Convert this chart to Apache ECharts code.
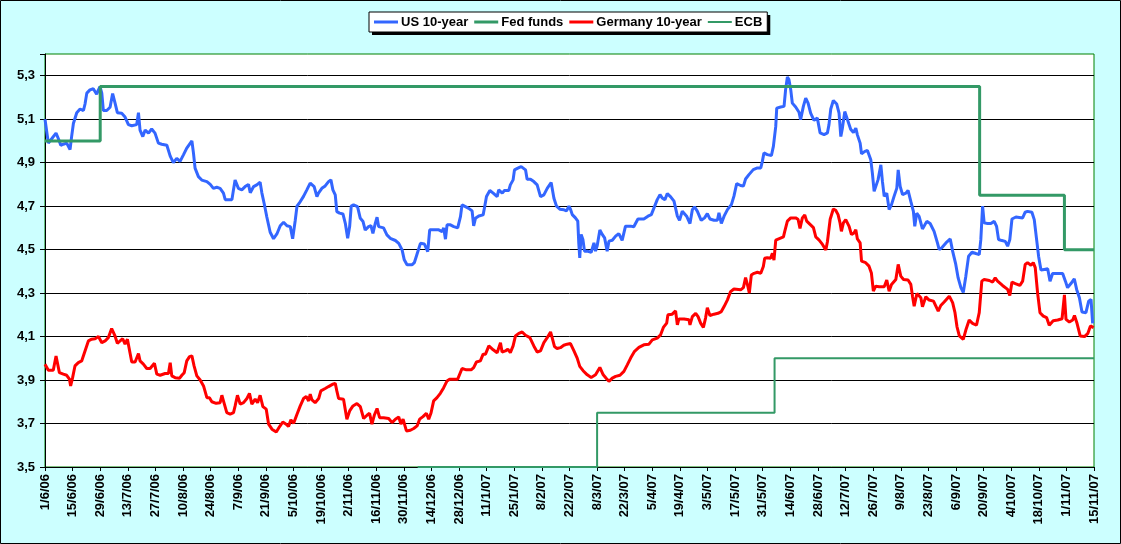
<!DOCTYPE html>
<html>
<head>
<meta charset="utf-8">
<script src="https://cdn.jsdelivr.net/npm/echarts@6/dist/echarts.min.js"></script>
<style>
html,body{margin:0;padding:0;background:#CCFFFF;}
#chart{width:1121px;height:544px;}
</style>
</head>
<body>
<div id="chart"></div>
<script>
// Day offsets are counted from 1 June 2006.
const START_DATE = '2006-06-01';

const seriesNames = ['US 10-year', 'Fed funds', 'Germany 10-year', 'ECB'];

const xTickLabels = ['1/6/06','15/6/06','29/6/06','13/7/06','27/7/06','10/8/06','24/8/06','7/9/06','21/9/06','5/10/06','19/10/06','2/11/06','16/11/06','30/11/06','14/12/06','28/12/06','11/1/07','25/1/07','8/2/07','22/2/07','8/3/07','22/3/07','5/4/07','19/4/07','3/5/07','17/5/07','31/5/07','14/6/07','28/6/07','12/7/07','26/7/07','9/8/07','23/8/07','6/9/07','20/9/07','4/10/07','18/10/07','1/11/07','15/11/07'];
const yTickLabels = ['3,5','3,7','3,9','4,1','4,3','4,5','4,7','4,9','5,1','5,3'];

// Policy rates: date of change and new rate (last entry = end of chart)
const fedDates = ['2006-06-01','2006-06-29','2007-09-18','2007-10-31','2007-11-15'];
const fedRates = [5.00, 5.25, 4.75, 4.50, 4.50];
const ecbDates = ['2006-12-07','2007-03-08','2007-06-06','2007-11-15'];
const ecbRates = [3.50, 3.75, 4.00, 4.00];

// [day offset, yield]
const usYield = [[0,5.10],[1.7,4.99],[3.4,5.01],[5.6,5.036],[6.8,5.01],[8.0,4.98],[9.3,4.985],[11.0,4.99],[12.7,4.96],[13.5,5.02],[14.4,5.08],[16.1,5.13],[17.8,5.147],[19.5,5.14],[20.3,5.17],[21.2,5.22],[22.8,5.235],[24.5,5.24],[25.4,5.235],[26.2,5.215],[27.1,5.235],[27.9,5.25],[28.8,5.22],[29.6,5.14],[31.3,5.14],[33.0,5.155],[34.3,5.218],[35.5,5.175],[36.7,5.13],[38.9,5.127],[40.6,5.11],[42.3,5.075],[44.0,5.07],[46.5,5.075],[47.4,5.13],[48.2,5.05],[49.6,5.02],[50.8,5.05],[52.5,5.036],[54.1,5.055],[55.8,5.036],[57.5,4.99],[59.2,4.985],[61.8,4.98],[63.5,4.93],[65.1,4.90],[66.8,4.92],[68.5,4.906],[70.2,4.936],[71.9,4.967],[74.5,5.0],[75.3,4.944],[76.1,4.875],[77.8,4.836],[79.5,4.82],[82.1,4.813],[83.8,4.80],[85.4,4.782],[87.1,4.787],[88.8,4.782],[90.5,4.76],[91.4,4.73],[94.8,4.73],[95.6,4.776],[96.4,4.82],[98.1,4.782],[99.8,4.775],[101.5,4.79],[103.2,4.80],[104.1,4.762],[105.8,4.79],[107.4,4.798],[109.1,4.81],[110.0,4.76],[111.2,4.71],[112.5,4.65],[114.2,4.58],[115.9,4.55],[117.6,4.572],[119.3,4.61],[121.0,4.626],[122.7,4.61],[124.4,4.606],[125.6,4.55],[126.9,4.634],[127.8,4.70],[129.4,4.72],[131.1,4.745],[132.8,4.775],[134.5,4.806],
[136.5,4.79],[137.9,4.744],[138.7,4.76],[140.4,4.782],[142.1,4.793],[143.8,4.813],[145.0,4.821],[146.0,4.775],[147.2,4.752],[148.0,4.675],[149.4,4.668],[151.1,4.664],[152.3,4.621],[153.5,4.552],[154.5,4.606],[155.3,4.70],[156.5,4.706],[158.5,4.698],[159.9,4.644],[161.3,4.629],[162.4,4.59],[164.1,4.606],[165.3,4.61],[166.3,4.575],[167.5,4.621],[168.4,4.649],[169.2,4.606],[171.7,4.60],[173.4,4.568],[175.1,4.552],[177.7,4.542],[179.4,4.529],[181.1,4.499],[182.2,4.453],[183.6,4.43],[186.1,4.43],[187.3,4.44],[188.7,4.48],[190.4,4.529],[192.4,4.526],[194.1,4.491],[195.1,4.591],[197.1,4.591],[199.7,4.591],[201.4,4.583],[202.2,4.60],[203.1,4.548],[203.9,4.614],[205.6,4.614],[207.3,4.606],[209.3,4.60],[210.7,4.652],[211.5,4.706],[213.2,4.698],[214.9,4.69],[216.6,4.678],[217.4,4.609],[218.3,4.644],[220.0,4.655],[222.2,4.66],[223.0,4.698],[223.9,4.744],[225.6,4.772],[227.3,4.76],[229.3,4.744],[230.1,4.775],[231.9,4.76],[233.0,4.772],[235.2,4.772],[236.0,4.798],[237.4,4.821],[238.1,4.867],[239.8,4.875],[241.5,4.882],[242.5,4.89],[243.7,4.867],[244.5,4.824],[246.2,4.824],[247.9,4.813],[249.6,4.798],[251.3,4.744],[253.0,4.752],[254.7,4.782],[256.7,4.809],[258.1,4.736],[259.4,4.70],[261.1,4.686],[263.2,4.683],[264.5,4.678],[265.7,4.70],[266.5,4.686],
[267.4,4.661],[269.0,4.646],[270.2,4.631],[270.7,4.531],[271.2,4.462],[271.9,4.57],[272.8,4.547],[273.6,4.493],[275.0,4.493],[277.0,4.488],[278.4,4.531],[279.2,4.493],[280.0,4.516],[281.4,4.59],[282.6,4.57],[283.8,4.554],[285.1,4.493],[286.0,4.539],[287.7,4.543],[289.4,4.562],[291.0,4.574],[292.7,4.543],[294.4,4.608],[297.0,4.608],[298.6,4.605],[300.7,4.641],[303.7,4.641],[305.8,4.654],[307.5,4.661],[309.2,4.70],[310.5,4.73],[311.9,4.753],[313.0,4.738],[314.4,4.73],[315.6,4.758],[317.3,4.743],[319.0,4.723],[320.7,4.654],[321.8,4.635],[323.2,4.677],[325.4,4.654],[327.1,4.62],[328.3,4.684],[329.4,4.697],[330.8,4.677],[332.8,4.635],[334.5,4.646],[335.9,4.666],[337.2,4.641],[339.3,4.635],[341.0,4.635],[341.8,4.669],[343.0,4.62],[344.4,4.654],[346.1,4.684],[348.1,4.707],[349.4,4.746],[350.8,4.804],[352.8,4.795],[354.2,4.792],[355.3,4.825],[357.0,4.845],[359.2,4.868],[361.3,4.876],[363.0,4.876],[363.8,4.906],[364.6,4.945],[366.3,4.937],[368.4,4.933],[369.4,4.975],[370.6,5.067],[371.1,5.151],[373.1,5.156],[374.8,5.159],[375.6,5.236],[376.5,5.294],[377.3,5.282],[378.2,5.236],[379.0,5.174],[380.7,5.156],[382.4,5.132],[383.2,5.098],[384.6,5.159],[385.8,5.197],[387.0,5.174],[388.3,5.128],[390.0,5.095],[391.7,5.105],[393.1,5.037],[395.1,5.029],[396.8,5.037],[397.6,5.075],[398.5,5.147],
[399.8,5.186],[401.5,5.17],[402.7,5.128],[403.6,5.02],[404.4,5.059],[405.6,5.135],[406.9,5.10],[408.6,5.054],[410.0,5.039],[411.2,5.059],[412.0,5.028],[413.4,4.99],[414.1,4.941],[415.8,4.952],[417.1,4.956],[418.8,4.913],[419.6,4.852],[420.5,4.768],[421.3,4.76],[422.5,4.822],[423.9,4.89],[424.7,4.814],[425.6,4.745],[426.9,4.76],[428.1,4.684],[429.3,4.707],[430.6,4.745],[432.0,4.783],[432.7,4.867],[433.7,4.791],[434.9,4.753],[436.6,4.76],[437.7,4.773],[439.1,4.722],[440.4,4.676],[441.1,4.607],[442.1,4.668],[443.3,4.653],[445.0,4.595],[447.2,4.63],[448.9,4.62],[450.9,4.584],[452.6,4.531],[453.5,4.5],[454.7,4.508],[456.9,4.531],[459.1,4.549],[460.3,4.493],[461.1,4.485],[461.9,4.432],[463.1,4.37],[464.5,4.325],
[465.7,4.303],[467.0,4.378],[468.4,4.47],[470.1,4.488],[472.1,4.482],[473.8,4.477],[474.6,4.546],[475.5,4.70],[476.3,4.623],[478.0,4.62],[479.7,4.62],[481.4,4.63],[482.6,4.607],[483.6,4.546],[484.8,4.543],[487.0,4.538],[488.2,4.516],[489.3,4.546],[490.4,4.641],[492.4,4.65],[495.8,4.646],[497.1,4.672],[498.3,4.676],[500.5,4.672],[501.7,4.638],[502.9,4.546],[503.9,4.47],[505.1,4.406],[506.8,4.409],[508.5,4.412],[509.7,4.355],[511.0,4.39],[513.6,4.39],[516.1,4.39],[517.5,4.355],[518.6,4.325],[520.3,4.344],[522.0,4.366],[523.2,4.317],[524.6,4.279],[525.9,4.213],[527.9,4.21],[529.3,4.263],[530.5,4.271],[531.3,4.161]];

const germanyYield = [[0,3.973],[1.7,3.945],[4.2,3.945],[5.6,4.011],[6.3,4.011],[7.3,3.934],[9.3,3.927],[11.0,3.922],[12.4,3.904],[13.0,3.873],[14.0,3.911],[15.2,3.965],[16.9,3.98],[18.6,3.988],[20.3,4.034],[22.0,4.08],[23.7,4.088],[25.4,4.09],[27.1,4.10],[28.8,4.072],[30.5,4.08],[32.1,4.095],[33.8,4.137],[34.7,4.134],[35.5,4.103],[36.7,4.069],[38.1,4.08],[39.4,4.09],[40.6,4.065],[41.8,4.088],[43.1,4.026],[44.0,3.983],[45.7,3.983],[47.4,4.022],[48.2,3.988],[49.9,3.973],[51.6,3.953],[53.3,3.953],[55.5,3.977],[56.7,3.927],[58.4,3.922],[60.9,3.93],[62.6,3.93],[63.5,3.98],[64.3,3.919],[66.0,3.911],[68.2,3.908],[69.4,3.922],[70.6,3.934],[71.9,3.988],[73.3,4.008],[74.5,4.011],[75.6,3.965],[77.0,3.919],[78.7,3.90],[80.4,3.873],[82.1,3.819],[83.4,3.819],[84.6,3.80],[86.8,3.793],[88.8,3.796],[89.7,3.83],[90.5,3.804],[92.2,3.75],[93.9,3.743],[95.6,3.75],[96.4,3.78],[97.6,3.83],[99.0,3.789],[100.7,3.796],[102.4,3.815],[103.7,3.839],[104.9,3.789],[106.6,3.812],[107.8,3.796],[109.1,3.83],[110.5,3.778],[112.2,3.766],[113.4,3.697],[115.1,3.674],[117.3,3.661],[119.0,3.686],[120.6,3.707],[122.3,3.697],[123.5,3.686],[124.7,3.717],[126.1,3.701],[127.8,3.743],[129.4,3.78],[131.1,3.815],[132.5,3.824],[133.7,3.804],[134.5,3.835],
[135.4,3.809],[137.0,3.796],[138.8,3.815],[139.9,3.85],[142.1,3.861],[143.8,3.87],[146.0,3.881],[147.2,3.885],[148.0,3.85],[148.9,3.815],[151.4,3.812],[153.1,3.72],[154.5,3.758],[156.2,3.781],[158.2,3.792],[159.9,3.778],[161.6,3.723],[163.3,3.738],[164.6,3.747],[165.8,3.697],[167.0,3.738],[168.4,3.769],[169.7,3.727],[171.7,3.727],[174.3,3.723],[176.0,3.704],[177.7,3.72],[179.4,3.73],[180.5,3.697],[181.6,3.72],[183.3,3.666],[185.3,3.669],[187.0,3.677],[188.7,3.689],[190.0,3.72],[191.7,3.732],[193.4,3.747],[194.6,3.72],[195.8,3.75],[197.1,3.804],[198.8,3.819],[200.5,3.839],[202.2,3.865],[203.9,3.896],[205.2,3.904],[207.3,3.904],[209.3,3.904],[210.3,3.896],[211.5,3.953],[213.7,3.947],[216.1,3.947],[217.4,3.957],[218.8,3.983],[220.8,3.988],[222.2,4.019],[223.4,4.019],[225.1,4.057],[227.3,4.039],[229.3,4.026],[231.0,4.072],[231.8,4.029],[233.5,4.034],[234.7,4.042],[236.0,4.026],[237.4,4.057],[238.6,4.103],[240.3,4.115],[242.0,4.121],[243.7,4.106],[245.9,4.095],[247.9,4.057],[249.6,4.029],[251.3,4.034],[253.0,4.072],[254.7,4.095],[256.4,4.121],[257.2,4.095],[258.4,4.054],[259.7,4.045],[261.4,4.049],[263.1,4.06],[264.8,4.065],[266.5,4.068],
[268.2,4.035],[269.9,4.001],[271.2,3.963],[272.9,3.943],[275.0,3.924],[277.0,3.912],[279.2,3.924],[281.4,3.958],[283.1,3.924],[284.8,3.906],[286.0,3.894],[287.7,3.909],[289.4,3.917],[291.6,3.922],[293.6,3.94],[295.3,3.97],[297.0,4.001],[299.0,4.032],[301.2,4.05],[303.7,4.062],[306.3,4.065],[308.0,4.085],[310.5,4.093],[312.2,4.108],[313.6,4.142],[315.3,4.162],[315.9,4.2],[318.1,4.203],[319.8,4.218],[320.7,4.154],[321.5,4.181],[324.1,4.181],[326.6,4.177],[327.1,4.154],[328.3,4.192],[330.0,4.207],[331.2,4.192],[332.5,4.162],[333.9,4.142],[335.0,4.185],[335.9,4.233],[337.2,4.197],[339.3,4.203],[341.3,4.207],[343.0,4.215],[344.4,4.238],[346.1,4.269],[347.7,4.307],[349.4,4.319],[352.8,4.315],[354.2,4.325],[355.3,4.371],[356.5,4.33],[357.2,4.30],[358.2,4.383],[359.6,4.391],[361.3,4.396],[363.0,4.391],[364.3,4.422],[365.0,4.46],[366.3,4.463],[368.0,4.46],[368.9,4.483],[369.7,4.452],[370.6,4.544],[371.4,4.552],[374.5,4.559],[375.1,4.582],[376.5,4.631],[378.2,4.646],[380.7,4.646],[381.9,4.64],[382.9,4.598],[384.1,4.646],[385.3,4.659],[386.3,4.631],[388.0,4.616],[389.7,4.601],[390.9,4.559],[392.6,4.544],[394.3,4.524],[396.0,4.498],[396.8,4.536],[398.2,4.64],
[399.8,4.687],[401.0,4.681],[402.2,4.661],[403.2,4.623],[403.9,4.584],[404.9,4.623],[406.1,4.638],[407.8,4.607],[409.0,4.569],[410.3,4.577],[411.2,4.592],[412.0,4.549],[413.4,4.531],[414.1,4.447],[416.2,4.44],[417.9,4.424],[419.1,4.393],[420.1,4.309],[421.3,4.332],[423.0,4.329],[425.6,4.329],[426.9,4.36],[428.1,4.309],[429.3,4.34],[431.5,4.363],[432.7,4.432],[434.0,4.378],[435.4,4.363],[437.7,4.36],[439.1,4.34],[440.0,4.283],[440.8,4.24],[442.2,4.298],[444.2,4.279],[445.0,4.237],[446.7,4.283],[448.4,4.268],[450.6,4.263],[451.8,4.24],[453.0,4.217],[454.3,4.243],[456.0,4.259],[458.6,4.286],[460.3,4.256],[461.5,4.21],[462.5,4.146],[463.7,4.103],[464.5,4.095],
[465.7,4.087],[467.0,4.13],[468.7,4.176],[470.4,4.161],[472.4,4.152],[473.8,4.21],[475.1,4.355],[476.3,4.363],[478.9,4.358],[480.6,4.351],[481.9,4.37],[483.1,4.355],[485.6,4.335],[488.2,4.317],[489.3,4.289],[490.4,4.351],[492.1,4.344],[494.4,4.335],[495.8,4.355],[497.1,4.432],[498.3,4.44],[500.0,4.428],[501.2,4.44],[502.2,4.417],[503.4,4.30],[504.6,4.21],[506.3,4.194],[508.0,4.187],[509.3,4.152],[511.3,4.173],[513.6,4.176],[515.8,4.182],[517.0,4.292],[517.8,4.179],[519.5,4.167],[521.2,4.176],[522.1,4.197],[523.3,4.164],[525.0,4.103],[527.2,4.10],[528.9,4.115],[530.2,4.149],[531.8,4.141]];

function dayOf(s) {
  const a = s.split('-').map(Number), b = START_DATE.split('-').map(Number);
  return (Date.UTC(a[0], a[1] - 1, a[2]) - Date.UTC(b[0], b[1] - 1, b[2])) / 86400000;
}
const fedData = fedDates.map((d, i) => [dayOf(d), fedRates[i]]);
const ecbData = ecbDates.map((d, i) => [dayOf(d), ecbRates[i]]);

const FONT = "'Liberation Sans', Arial, sans-serif";
const ICON_THICK = 'path://M0,0M24,14M0,5.5L24,5.5L24,8.5L0,8.5Z';
const ICON_THIN = 'path://M0,0M24,14M0,6L24,6L24,8L0,8Z';

// legend geometry (for its drop shadow)
const LEG_LEFT = 369, LEG_TOP = 12, LEG_ITEM_W = 24, LEG_GAP = 6, LEG_PAD = 5, LEG_H = 20, LEG_TXT_GAP = 3;
const mc = document.createElement('canvas').getContext('2d');
mc.font = "bold 13px 'Liberation Sans', Arial, sans-serif";
const legendW = 2 * LEG_PAD + seriesNames.reduce((s, n) => s + LEG_ITEM_W + LEG_TXT_GAP + mc.measureText(n).width, 0) + LEG_GAP * (seriesNames.length - 1);

const chart = echarts.init(document.getElementById('chart'));
chart.setOption({
  animation: false,
  backgroundColor: '#CCFFFF',
  graphic: [{
    type: 'rect', z: 100, silent: true,
    shape: { x: 0.5, y: 0.5, width: 1120, height: 543 },
    style: { fill: 'none', stroke: '#000', lineWidth: 1 }
  }, {
    type: 'rect', z: 1, silent: true,
    shape: { x: LEG_LEFT + 3, y: LEG_TOP + 3, width: legendW, height: LEG_H },
    style: { fill: '#000' }
  }],
  legend: {
    data: [
      { name: seriesNames[0], icon: ICON_THICK },
      { name: seriesNames[1], icon: ICON_THICK },
      { name: seriesNames[2], icon: ICON_THICK },
      { name: seriesNames[3], icon: ICON_THIN }
    ],
    left: LEG_LEFT, top: LEG_TOP, z: 5,
    orient: 'horizontal',
    itemWidth: LEG_ITEM_W, itemHeight: 14, itemGap: LEG_GAP,
    padding: [3, LEG_PAD],
    backgroundColor: '#fff',
    borderColor: '#000', borderWidth: 1,
    textStyle: { fontFamily: FONT, fontWeight: 'bold', fontSize: 13, color: '#000', padding: [0, 0, 0, LEG_TXT_GAP - 5] }
  },
  grid: {
    left: 45, right: 27, top: 54, bottom: 77,
    show: true, backgroundColor: '#fff', borderColor: '#008000', borderWidth: 1
  },
  xAxis: {
    type: 'value', min: 0, max: 532, interval: 14, z: 3,
    axisLine: { show: true, lineStyle: { color: '#000', width: 1 } },
    axisTick: { show: true, length: 4, lineStyle: { color: '#000' } },
    splitLine: { show: false },
    axisLabel: {
      rotate: 90, margin: 7, color: '#000', fontFamily: FONT, fontWeight: 'bold', fontSize: 13,
      formatter: v => xTickLabels[Math.round(v / 14)] || ''
    }
  },
  yAxis: {
    type: 'value', min: 3.5, max: 5.4, interval: 0.2,
    axisLine: { show: true, lineStyle: { color: '#000', width: 1 } },
    axisTick: { show: true, length: 5, lineStyle: { color: '#000' } },
    splitLine: { show: true, showMaxLine: false, lineStyle: { color: '#000', width: 1 } },
    axisLabel: {
      margin: 10, color: '#000', fontFamily: FONT, fontWeight: 'bold', fontSize: 13,
      formatter: v => yTickLabels[Math.round((v - 3.5) / 0.2)] || ''
    }
  },
  series: [
    { name: seriesNames[0], type: 'line', data: usYield, showSymbol: false, symbol: 'none',
      lineStyle: { color: '#3366FF', width: 3 }, itemStyle: { color: '#3366FF' } },
    { name: seriesNames[1], type: 'line', data: fedData, step: 'end', showSymbol: false, symbol: 'none',
      lineStyle: { color: '#339966', width: 3 }, itemStyle: { color: '#339966' } },
    { name: seriesNames[2], type: 'line', data: germanyYield, showSymbol: false, symbol: 'none',
      lineStyle: { color: '#FF0000', width: 3 }, itemStyle: { color: '#FF0000' } },
    { name: seriesNames[3], type: 'line', data: ecbData, step: 'end', showSymbol: false, symbol: 'none',
      lineStyle: { color: '#339966', width: 2 }, itemStyle: { color: '#339966' } }
  ]
});
</script>
</body>
</html>
